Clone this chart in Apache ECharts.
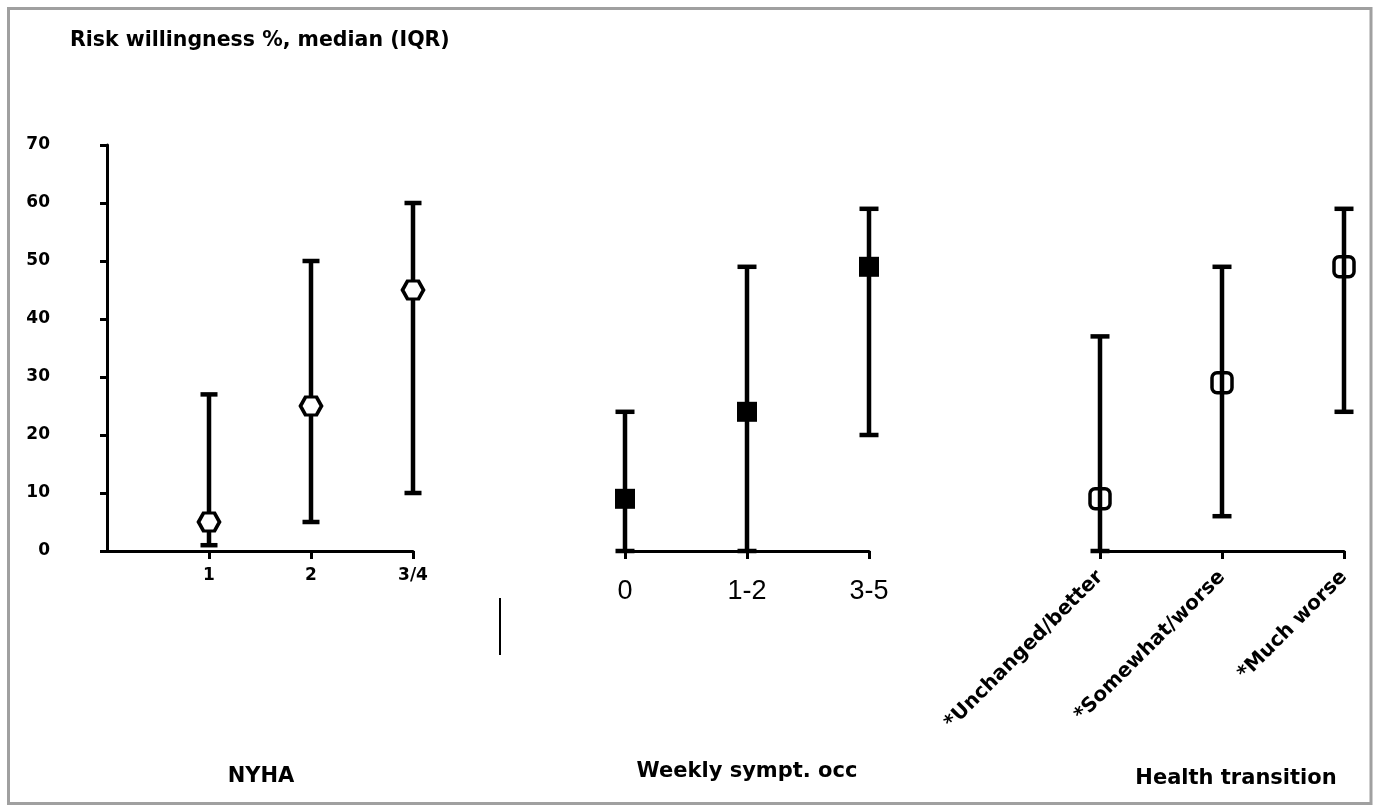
<!DOCTYPE html>
<html>
<head>
<meta charset="utf-8">
<script src="https://cdn.jsdelivr.net/npm/echarts@6/dist/echarts.min.js"></script>
<style>
html,body{margin:0;padding:0;background:#fff;}
#chart{width:1375px;height:806px;}
</style>
</head>
<body>
<div id="chart"></div>
<script>
// ---- data ----
const titleText = 'Risk willingness %, median (IQR)';
const yTicks = [0, 10, 20, 30, 40, 50, 60, 70];

const nyhaCategories = ['1', '2', '3/4'];
const nyhaMedian = [5, 25, 45];
const nyhaQ1 = [1, 5, 10];
const nyhaQ3 = [27, 50, 60];

const symptCategories = ['0', '1-2', '3-5'];
const symptMedian = [9, 24, 49];
const symptQ1 = [0, 0, 20];
const symptQ3 = [24, 49, 59];

const healthCategories = ['*Unchanged/better', '*Somewhat/worse', '*Much worse'];
const healthMedian = [9, 29, 49];
const healthQ1 = [0, 6, 24];
const healthQ3 = [37, 49, 59];

const groupNames = ['NYHA', 'Weekly sympt. occ', 'Health transition'];

// ---- chart ----
const FONT = 'DejaVu Sans';
const chart = echarts.init(document.getElementById('chart'), null, {renderer: 'canvas'});

function errorBar(capW, lw) {
  return function (params, api) {
    const x = api.value(0);
    const lo = api.coord([x, api.value(1)]);
    const hi = api.coord([x, api.value(2)]);
    const w = capW / 2;
    const st = {stroke: '#000', lineWidth: lw};
    return {
      type: 'group',
      children: [
        {type: 'line', shape: {x1: lo[0], y1: lo[1], x2: hi[0], y2: hi[1]}, style: st},
        {type: 'line', shape: {x1: hi[0] - w, y1: hi[1], x2: hi[0] + w, y2: hi[1]}, style: st},
        {type: 'line', shape: {x1: lo[0] - w, y1: lo[1], x2: lo[0] + w, y2: lo[1]}, style: st}
      ]
    };
  };
}

const nyhaAxisData = [''].concat(nyhaCategories);
const nyhaBars = nyhaCategories.map((c, i) => [i + 1, nyhaQ1[i], nyhaQ3[i]]);
const nyhaPts = nyhaCategories.map((c, i) => [i + 1, nyhaMedian[i]]);
const symptBars = symptCategories.map((c, i) => [i, symptQ1[i], symptQ3[i]]);
const symptPts = symptCategories.map((c, i) => [i, symptMedian[i]]);
const healthBars = healthCategories.map((c, i) => [i, healthQ1[i], healthQ3[i]]);
const healthPts = healthCategories.map((c, i) => [i, healthMedian[i]]);

const axisLineStyle = {color: '#000', width: 3};
const noEmph = {disabled: true};

const option = {
  animation: false,
  backgroundColor: '#fff',
  grid: [
    {left: 107, top: 145, width: 306, height: 406},
    {left: 625, top: 145, width: 244, height: 406},
    {left: 1100, top: 145, width: 244, height: 406}
  ],
  xAxis: [
    {
      gridIndex: 0, type: 'category', data: nyhaAxisData, boundaryGap: false,
      axisLine: {lineStyle: axisLineStyle},
      axisTick: {show: true, length: 8, lineStyle: {color: '#000', width: 3}, interval: function (idx) { return idx > 0; }},
      axisLabel: {color: '#000', fontFamily: FONT, fontWeight: 'bold', fontSize: 17, margin: 16, interval: 0},
      splitLine: {show: false}
    },
    {
      gridIndex: 1, type: 'category', data: symptCategories, boundaryGap: false, offset: 5,
      axisLine: {lineStyle: axisLineStyle},
      axisTick: {show: true, length: 8, lineStyle: {color: '#000', width: 3}},
      axisLabel: {color: '#000', fontFamily: 'Liberation Sans', fontSize: 27, margin: 22, interval: 0},
      splitLine: {show: false}
    },
    {
      gridIndex: 2, type: 'category', data: healthCategories, boundaryGap: false, offset: 5,
      axisLine: {lineStyle: axisLineStyle},
      axisTick: {show: true, length: 8, lineStyle: {color: '#000', width: 3}},
      axisLabel: {color: '#000', fontFamily: FONT, fontWeight: 'bold', fontSize: 20, margin: 18, rotate: 45, interval: 0},
      splitLine: {show: false}
    }
  ],
  yAxis: [
    {
      gridIndex: 0, type: 'value', min: yTicks[0], max: yTicks[yTicks.length - 1], interval: 10,
      axisLine: {show: true, lineStyle: axisLineStyle},
      axisTick: {show: true, length: 7, lineStyle: {color: '#000', width: 3}},
      axisLabel: {color: '#000', fontFamily: FONT, fontWeight: 'bold', fontSize: 17, margin: 57},
      splitLine: {show: false}
    },
    {gridIndex: 1, type: 'value', min: 0, max: 70, interval: 10, show: false, splitLine: {show: false}},
    {gridIndex: 2, type: 'value', min: 0, max: 70, interval: 10, show: false, splitLine: {show: false}}
  ],
  series: [
    {type: 'custom', xAxisIndex: 0, yAxisIndex: 0, renderItem: errorBar(17, 4.5), data: nyhaBars, encode: {x: 0, y: [1, 2]}, z: 2, silent: true},
    {type: 'scatter', xAxisIndex: 0, yAxisIndex: 0, data: nyhaPts, symbol: 'path://M0,9 L5,0 L16,0 L21,9 L16,18 L5,18 Z', symbolSize: [21, 18],
      itemStyle: {color: '#fff', borderColor: '#000', borderWidth: 3.5, opacity: 1}, emphasis: noEmph, z: 3, silent: true},
    {type: 'custom', xAxisIndex: 1, yAxisIndex: 1, renderItem: errorBar(19, 4.5), data: symptBars, encode: {x: 0, y: [1, 2]}, z: 2, silent: true},
    {type: 'scatter', xAxisIndex: 1, yAxisIndex: 1, data: symptPts, symbol: 'rect', symbolSize: 20,
      itemStyle: {color: '#000', opacity: 1}, emphasis: noEmph, z: 3, silent: true},
    {type: 'custom', xAxisIndex: 2, yAxisIndex: 2, renderItem: errorBar(19, 4.5), data: healthBars, encode: {x: 0, y: [1, 2]}, z: 2, silent: true},
    {type: 'scatter', xAxisIndex: 2, yAxisIndex: 2, data: healthPts, symbol: 'roundRect', symbolSize: 20,
      itemStyle: {color: 'rgba(0,0,0,0)', borderColor: '#000', borderWidth: 3.5, opacity: 1}, emphasis: noEmph, z: 3, silent: true}
  ],
  graphic: [
    {type: 'rect', shape: {x: 8.5, y: 8.5, width: 1362.5, height: 795}, style: {fill: 'none', stroke: '#a0a0a0', lineWidth: 3}, silent: true},
    {type: 'line', shape: {x1: 500, y1: 598, x2: 500, y2: 655}, style: {stroke: '#000', lineWidth: 2}, silent: true},
    {type: 'text', x: 70, y: 41, style: {text: titleText, fill: '#000', font: 'bold 20.5px "DejaVu Sans"', textVerticalAlign: 'middle'}},
    {type: 'text', x: 261, y: 777, style: {text: groupNames[0], fill: '#000', font: 'bold 21px "DejaVu Sans"', textAlign: 'center', textVerticalAlign: 'middle'}},
    {type: 'text', x: 747, y: 772, style: {text: groupNames[1], fill: '#000', font: 'bold 21px "DejaVu Sans"', textAlign: 'center', textVerticalAlign: 'middle'}},
    {type: 'text', x: 1236, y: 779, style: {text: groupNames[2], fill: '#000', font: 'bold 21px "DejaVu Sans"', textAlign: 'center', textVerticalAlign: 'middle'}}
  ]
};
chart.setOption(option);
</script>
</body>
</html>
